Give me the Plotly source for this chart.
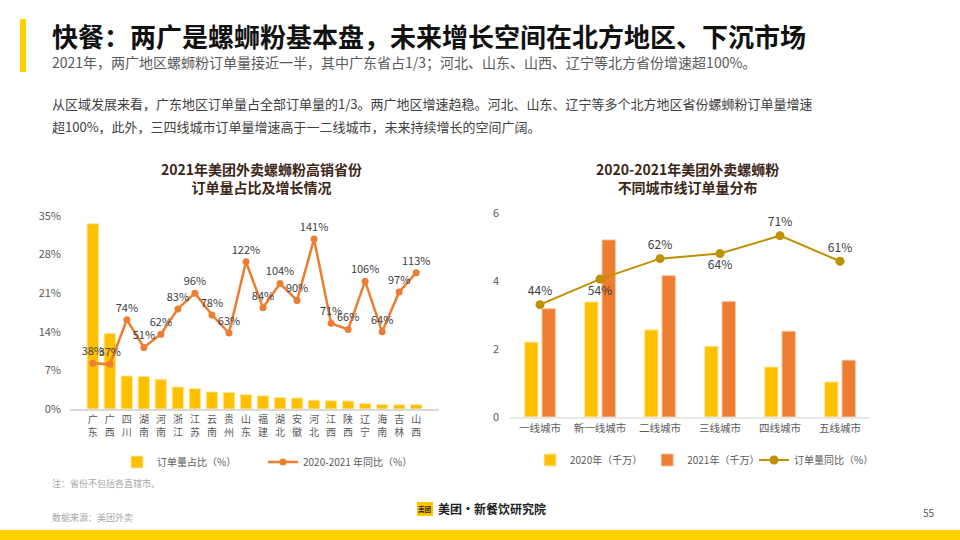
import plotly.graph_objects as go

# ---------------- data ----------------
provinces = ["广东", "广西", "四川", "湖南", "河南", "浙江", "江苏", "云南", "贵州", "山东",
             "福建", "湖北", "安徽", "河北", "江西", "陕西", "辽宁", "海南", "吉林", "山西"]
share_pct = [33.6, 13.7, 6.0, 5.9, 5.4, 4.0, 3.7, 3.1, 3.0, 2.6,
             2.4, 2.1, 2.0, 1.6, 1.5, 1.45, 1.0, 0.85, 0.8, 0.8]
growth_prov = [38, 37, 74, 51, 62, 83, 96, 78, 63, 122,
               84, 104, 90, 141, 71, 66, 106, 64, 97, 113]
left_yticks = [0, 7, 14, 21, 28, 35]

cities = ["一线城市", "新一线城市", "二线城市", "三线城市", "四线城市", "五线城市"]
orders_2020 = [2.2, 3.38, 2.56, 2.08, 1.47, 1.03]
orders_2021 = [3.18, 5.2, 4.15, 3.39, 2.52, 1.67]
growth_city = [44, 54, 62, 64, 71, 61]
growth_city_pos = ["top center", "bottom center", "top center", "bottom center", "top center", "top center"]
right_yticks = [0, 2, 4, 6]

YELLOW = "#FFC000"
ORANGE = "#ED7D31"
GOLD = "#BF9000"
FONT = "Noto Sans CJK SC"

fig = go.Figure()

# ---------------- left chart ----------------
fig.add_trace(go.Bar(
    x=provinces, y=share_pct, name="订单量占比（%）",
    marker=dict(color=YELLOW, line=dict(color="#FFE9A8", width=1)),
    width=0.68, xaxis="x", yaxis="y", legend="legend",
))
fig.add_trace(go.Scatter(
    x=provinces, y=growth_prov, name="2020-2021 年同比（%）",
    mode="lines+markers+text",
    line=dict(color=ORANGE, width=2.5), marker=dict(color=ORANGE, size=7),
    text=[f"{v}%" for v in growth_prov], textposition="top center",
    textfont=dict(size=11, color="#404040", family=FONT),
    cliponaxis=False, xaxis="x", yaxis="y2", legend="legend",
))

# ---------------- right chart ----------------
fig.add_trace(go.Bar(
    x=cities, y=orders_2020, name="2020年（千万）",
    marker=dict(color=YELLOW, line=dict(color="#FFE9A8", width=1)),
    xaxis="x2", yaxis="y3", legend="legend2",
))
fig.add_trace(go.Bar(
    x=cities, y=orders_2021, name="2021年（千万）",
    marker=dict(color=ORANGE, line=dict(color="#F8C4A2", width=1)),
    xaxis="x2", yaxis="y3", legend="legend2",
))
fig.add_trace(go.Scatter(
    x=cities, y=growth_city, name="订单量同比（%）",
    mode="lines+markers+text",
    line=dict(color=GOLD, width=2), marker=dict(color=GOLD, size=9),
    text=[f"{v}%" for v in growth_city], textposition=growth_city_pos,
    textfont=dict(size=12, color="#404040", family=FONT),
    cliponaxis=False, xaxis="x2", yaxis="y4", legend="legend3",
))

tickfont = dict(size=10, color="#595959", family=FONT)
legfont = dict(size=10, color="#595959", family=FONT)

fig.update_layout(
    width=960, height=540,
    margin=dict(l=0, r=0, t=0, b=0, autoexpand=False),
    paper_bgcolor="white", plot_bgcolor="rgba(0,0,0,0)",
    font=dict(family=FONT, color="#404040"),
    barmode="group", bargap=0.42, bargroupgap=0.23,
    xaxis=dict(domain=[70/960, 439/960], tickmode="array", tickvals=provinces,
               ticktext=["<br>".join(p) for p in provinces],
               tickfont=tickfont, showline=True, linecolor="#D9D9D9", linewidth=1.5,
               showgrid=False, ticks="", fixedrange=True, automargin=False),
    yaxis=dict(domain=[1-409/540, 1-216/540], range=[0, 35], tickvals=left_yticks,
               ticktext=[f"{v}%" for v in left_yticks], showgrid=False, zeroline=False,
               tickfont=dict(size=11, color="#595959", family=FONT), ticklabelstandoff=8,
               automargin=False),
    yaxis2=dict(domain=[1-409/540, 1-216/540], range=[0, 160], overlaying="y", side="right",
                visible=False, anchor="x"),
    xaxis2=dict(domain=[510/960, 870/960], anchor="y3", tickfont=dict(size=10.5, color="#595959", family=FONT),
                showline=True, linecolor="#E7E7E7", linewidth=2, showgrid=False, ticks="",
                automargin=False),
    yaxis3=dict(domain=[1-417/540, 1-212.7/540], range=[0, 6], tickvals=right_yticks, anchor="x2",
                showgrid=False, zeroline=False,
                tickfont=dict(size=11, color="#595959", family=FONT), ticklabelstandoff=10,
                automargin=False),
    yaxis4=dict(domain=[1-417/540, 1-212.7/540], range=[0, 80], overlaying="y3", side="right",
                visible=False, anchor="x2"),
    legend=dict(orientation="h", x=117/960, y=1-462/540, xanchor="left", yanchor="middle",
                font=legfont, entrywidth=101, itemwidth=30,
                bgcolor="rgba(0,0,0,0)", traceorder="normal"),
    legend2=dict(orientation="h", x=530/960, y=1-460/540, xanchor="left", yanchor="middle",
                 font=legfont, itemwidth=30, bgcolor="rgba(0,0,0,0)", traceorder="normal"),
    legend3=dict(orientation="h", x=754/960, y=1-460/540, xanchor="left", yanchor="middle",
                 font=legfont, itemwidth=30, bgcolor="rgba(0,0,0,0)"),
    showlegend=True,
)

# ---------------- decorations ----------------
shapes = [
    dict(type="rect", xref="paper", yref="paper", x0=20/960, x1=26/960,
         y0=1-72/540, y1=1-19/540, fillcolor="#FFD100", line_width=0),
    dict(type="rect", xref="paper", yref="paper", x0=0, x1=1,
         y0=0, y1=10/540, fillcolor="#FFD100", line_width=0),
    dict(type="rect", xref="paper", yref="paper", x0=417/960, x1=433/960,
         y0=1-516/540, y1=1-502/540, fillcolor="#FFC300", line_width=0),
]
fig.update_layout(shapes=shapes)

def ann(text, x, y, size, color, xanchor="left", bold=False, align="left"):
    if bold:
        text = f"<b>{text}</b>"
    fig.add_annotation(text=text, x=x/960, y=1-y/540, xref="paper", yref="paper",
                       xanchor=xanchor, yanchor="middle", showarrow=False, align=align,
                       font=dict(size=size, color=color, family=FONT))

ann("快餐：两广是螺蛳粉基本盘，未来增长空间在北方地区、下沉市场", 50, 36, 26, "#111111", bold=True)
ann("2021年，两广地区螺蛳粉订单量接近一半，其中广东省占1/3；河北、山东、山西、辽宁等北方省份增速超100%。",
    50, 62, 14, "#595959")
ann("从区域发展来看，广东地区订单量占全部订单量的1/3。两广地区增速趋稳。河北、山东、辽宁等多个北方地区省份螺蛳粉订单量增速",
    50, 103, 13, "#404040")
ann("超100%，此外，三四线城市订单量增速高于一二线城市，未来持续增长的空间广阔。", 50, 126, 13, "#404040")

ann("2021年美团外卖螺蛳粉高销省份<br>订单量占比及增长情况", 261, 178, 14, "#3B2618",
    xanchor="center", bold=True, align="center")
ann("2020-2021年美团外卖螺蛳粉<br>不同城市线订单量分布", 687, 178, 14, "#3B2618",
    xanchor="center", bold=True, align="center")

ann("注：省份不包括各直辖市。", 50, 483, 9, "#A6A6A6")
ann("数据来源：美团外卖", 50, 517, 9, "#A6A6A6")
ann("美团", 425, 509, 6.5, "#3B2618", xanchor="center", bold=True)
ann("美团·新餐饮研究院", 436, 508, 12, "#222222", bold=True)
ann("55", 929, 512, 10, "#595959", xanchor="center")

fig.write_html(
    "out.html",
    config={"displayModeBar": False},
    post_script="document.documentElement.style.margin='0';document.body.style.margin='0';"
                "document.body.style.overflow='hidden';",
)
